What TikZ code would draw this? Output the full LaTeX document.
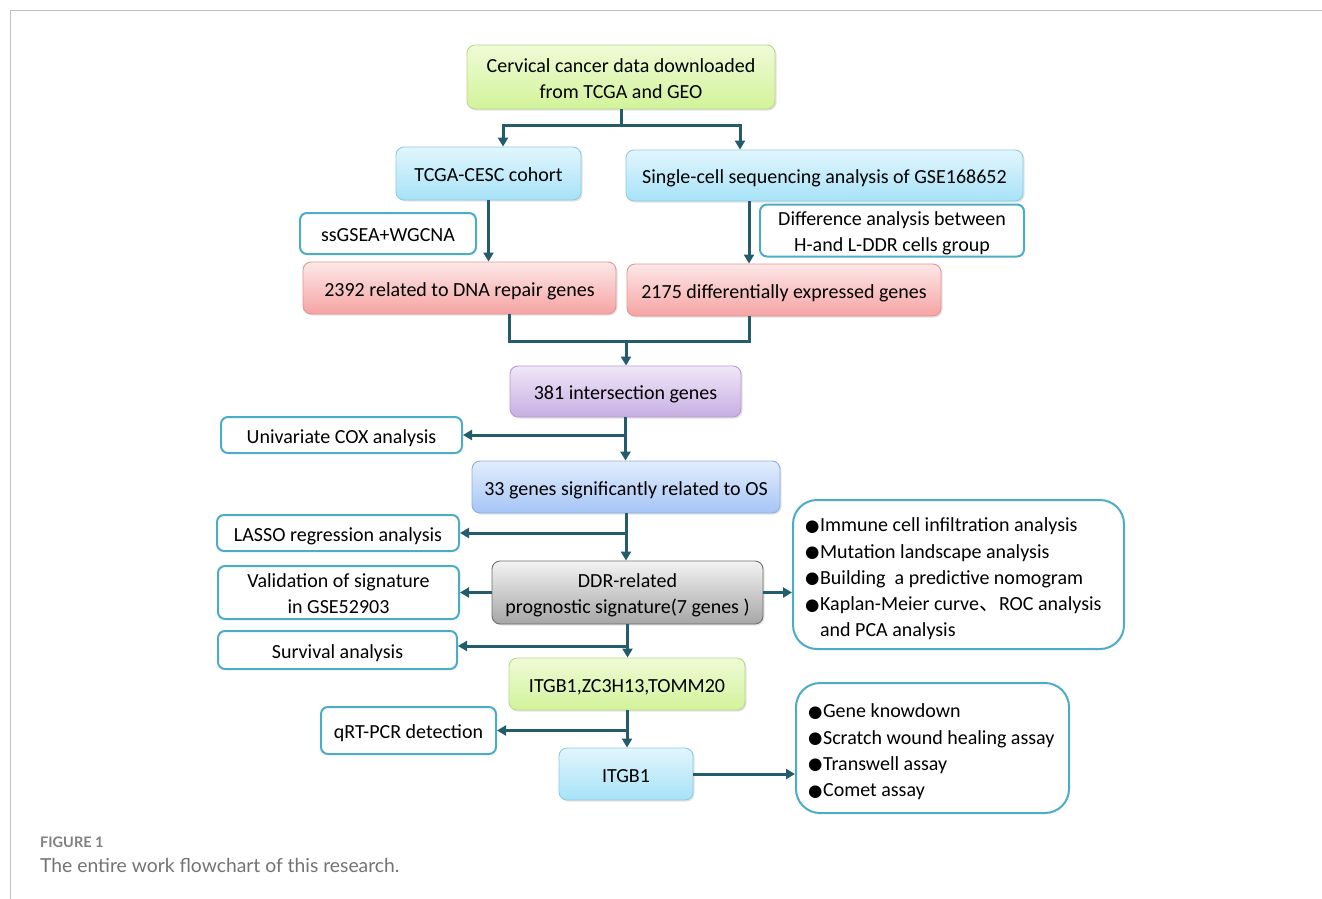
\documentclass[tikz,border=0pt]{standalone}
\usepackage{fontspec}
\setmainfont{Carlito}
\newfontfamily\dejavu{DejaVu Sans}
\newfontfamily\cjk{Noto Sans CJK SC}
\newfontfamily\capfont{Lato}
\usetikzlibrary{arrows.meta,shadows}
\definecolor{arr}{HTML}{245C6C}
\definecolor{tealb}{HTML}{4BACC6}
\definecolor{gT}{HTML}{EFFBD6}\definecolor{gB}{HTML}{D2F39A}\definecolor{gD}{HTML}{B5D98A}
\definecolor{bT}{HTML}{E2F6FD}\definecolor{bB}{HTML}{A6E2F7}\definecolor{bD}{HTML}{8CCBE2}
\definecolor{rT}{HTML}{FDE8E8}\definecolor{rB}{HTML}{F6A3A3}\definecolor{rD}{HTML}{E39595}
\definecolor{pT}{HTML}{F0E7F8}\definecolor{pB}{HTML}{C7AEE2}\definecolor{pD}{HTML}{B39BD2}
\definecolor{oT}{HTML}{E3EDFD}\definecolor{oB}{HTML}{A4C5F6}\definecolor{oD}{HTML}{90AEDB}
\definecolor{kT}{HTML}{F3F3F3}\definecolor{kB}{HTML}{A6A6A6}\definecolor{kD}{HTML}{6E6E6E}
\newcommand{\bul}{\raisebox{0.5pt}{\fontsize{16.5}{16.5}\dejavu ●}\hspace{0.5pt}}
\tikzset{
  box/.style={draw, rounded corners=8pt, line width=0.9pt, align=center, inner sep=0pt,
    drop shadow={opacity=0.22,shadow xshift=1.5pt,shadow yshift=-1.5pt}},
  one/.style={text height=21pt, text depth=5pt},
  two/.style={text height=47pt, text depth=5pt},
  gbox/.style={box, top color=gT, bottom color=gB, draw=gD},
  bbox/.style={box, top color=bT, bottom color=bB, draw=bD},
  rbox/.style={box, top color=rT, bottom color=rB, draw=rD},
  pbox/.style={box, top color=pT, bottom color=pB, draw=pD},
  obox/.style={box, top color=oT, bottom color=oB, draw=oD},
  kbox/.style={box, top color=kT, bottom color=kB, draw=kD},
  wbox/.style={draw=tealb, line width=2pt, rounded corners=7pt, fill=white, align=center, inner sep=0pt},
  bigbox/.style={draw=tealb, line width=2pt, rounded corners=24pt, fill=white, inner sep=0pt},
  arrow/.style={draw=arr, line width=3pt, -{Triangle[length=9pt,width=10pt]}},
  link/.style={draw=arr, line width=3pt},
}
\begin{document}
\begin{tikzpicture}[x=1pt,y=-1pt,font=\fontsize{20}{26}\selectfont]
\useasboundingbox (0,0) rectangle (1322,899);
\draw[black!25, line width=1pt] (10,899) -- (10,11) -- (1322,11);

\node[gbox, two, minimum width=308pt, minimum height=64pt] (top) at (621,77) {Cervical cancer data downloaded\\from TCGA and GEO};
\node[bbox, one, minimum width=185pt, minimum height=53pt] (tcga) at (488.5,173.5) {TCGA-CESC cohort};
\node[bbox, one, minimum width=397pt, minimum height=51pt] (sc) at (824.5,175.5) {Single-cell sequencing analysis of GSE168652};
\node[wbox, one, minimum width=176pt, minimum height=41pt] (ss) at (388,233.5) {ssGSEA+WGCNA};
\node[wbox, two, minimum width=264pt, minimum height=45pt] (diff) at (892,230.5) {Difference analysis between\\H-and L-DDR cells group};
\node[rbox, one, minimum width=313pt, minimum height=52pt] (r1) at (459.5,288) {2392 related to DNA repair genes};
\node[rbox, one, minimum width=314pt, minimum height=52pt] (r2) at (784,290) {2175 differentially expressed genes};
\node[pbox, one, minimum width=231pt, minimum height=51pt] (p) at (625.5,391.5) {381 intersection genes};
\node[wbox, one, minimum width=241pt, minimum height=36pt] (u) at (341.5,435) {Univariate COX analysis};
\node[obox, one, minimum width=308pt, minimum height=52pt] (o) at (626,487) {33 genes significantly related to OS};
\node[wbox, one, minimum width=242pt, minimum height=36pt] (l) at (338,533) {LASSO regression analysis};
\node[wbox, two, minimum width=241pt, minimum height=53pt] (v) at (338.5,592.5) {Validation of signature\\in GSE52903};
\node[kbox, two, minimum width=271pt, minimum height=63pt] (d) at (627.5,592.5) {DDR-related\\prognostic signature(7 genes )};
\node[wbox, one, minimum width=239pt, minimum height=38pt] (s) at (337.5,650) {Survival analysis};
\node[gbox, one, minimum width=236pt, minimum height=52pt] (g2) at (627,684) {ITGB1,ZC3H13,TOMM20};
\node[wbox, one, minimum width=175pt, minimum height=47pt] (q) at (408.5,730.5) {qRT-PCR detection};
\node[bbox, one, minimum width=134pt, minimum height=52pt] (i) at (626,774) {ITGB1};
\node[bigbox, minimum width=331pt, minimum height=149pt] (rb1) at (958.5,574.5) {};
\node[align=left, anchor=west, inner sep=0pt, font=\fontsize{20}{26.2}\selectfont] (rb1t) at (805,579) {\bul Immune cell infiltration analysis\\\bul Mutation landscape analysis\\\bul Building\ \ a predictive nomogram\\\bul Kaplan-Meier curve{\cjk 、}ROC analysis\\\phantom{\bul}and PCA analysis};
\node[bigbox, minimum width=273pt, minimum height=130pt] (rb2) at (932.5,748) {};
\node[align=left, anchor=west, inner sep=0pt, font=\fontsize{20}{26.3}\selectfont] (rb2t) at (808,752) {\bul Gene knowdown\\\bul Scratch wound healing assay\\\bul Transwell assay\\\bul Comet assay};

% connectors
\coordinate (j1) at (621,125);
\coordinate (tl) at ([xshift=14.5pt]tcga.north);
\coordinate (sr) at ([xshift=-84.5pt]sc.north);
\draw[link] (top.south) -- (j1);
\draw[arrow] (j1) -| (tl);
\draw[arrow] (j1) -| (sr);
\draw[arrow] (tcga.south) -- (tcga.south |- r1.north);
\coordinate (scb) at ([xshift=-75.5pt]sc.south);
\draw[arrow] (scb) -- (scb |- r2.north);
\coordinate (m) at (626,341);
\coordinate (r1b) at ([xshift=49.5pt]r1.south);
\coordinate (r2b) at ([xshift=-35pt]r2.south);
\draw[link] (r1b) |- (m);
\draw[link] (r2b) |- (m);
\draw[arrow] (m) -- (m |- p.north);
\draw[arrow] (p.south) -- (p.south |- o.north);
\draw[arrow] (p.south |- u.east) -- (u.east);
\draw[arrow] (o.south) -- (o.south |- d.north);
\draw[arrow] (o.south |- l.east) -- (l.east);
\draw[arrow] (d.west) -- (v.east);
\draw[arrow] (d.east) -- (d.east -| rb1.west);
\coordinate (sj) at (627,646);
\draw[arrow] (d.south) -- (d.south |- g2.north);
\draw[arrow] (sj) -- (sj -| s.east);
\draw[arrow] (g2.south) -- (g2.south |- i.north);
\draw[arrow] (g2.south |- q.east) -- (q.east);
\draw[arrow] (i.east) -- (i.east -| rb2.west);

% caption
\node[anchor=west, inner sep=0pt, text=black!50, font=\capfont\bfseries\fontsize{14.5}{16}\selectfont] (cap1) at (40,842) {FIGURE 1};
\node[anchor=west, inner sep=0pt, text=black!55, font=\capfont\fontsize{19.3}{22}\selectfont] (cap2) at (40,865) {The entire work flowchart of this research.};
\end{tikzpicture}
\end{document}
